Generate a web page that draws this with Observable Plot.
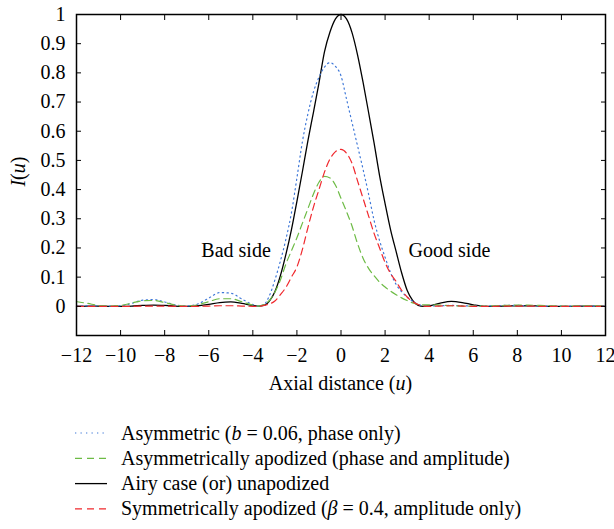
<!DOCTYPE html>
<html>
<head>
<meta charset="utf-8">
<script src="https://cdn.jsdelivr.net/npm/d3@7"></script>
<script src="https://cdn.jsdelivr.net/npm/@observablehq/plot@0.6"></script>
<style>
  body { margin: 0; background: #fff; font-family: Liberation Serif, serif; }
  #chart svg, #legend svg { display: block; }
</style>
</head>
<body>
<div id="chart"></div>
<div id="legend"></div>
<script>
// Axial distance u (coarse outside, finer around the main lobe)
const u = [-12,-11.5,-11,-10.5,-10,-9.5,-9,-8.5,-8,-7.5,-7,-6.5,-6,-5.5,-5,-4.5,
  -4,-3.75,-3.5,-3.25,-3,-2.75,-2.5,-2.25,-2,-1.75,-1.5,-1.25,-1,-0.75,-0.5,-0.25,0,
  0.25,0.5,0.75,1,1.25,1.5,1.75,2,2.25,2.5,2.75,3,3.25,3.5,3.75,4,
  4.5,5,5.5,6,6.5,7,7.5,8,8.5,9,9.5,10,10.5,11,11.5,12];

const asymmetric = [0.001,0.002,0.002,0.001,0.002,0.010,0.021,0.023,0.015,0.005,0.001,0.008,0.028,0.047,0.045,0.025,
  0.006,0.001,0.006,0.036,0.090,0.155,0.230,0.320,0.440,0.565,0.660,0.735,0.785,0.820,0.835,0.822,0.790,
  0.710,0.630,0.550,0.470,0.385,0.295,0.225,0.168,0.115,0.075,0.050,0.032,0.017,0.007,0.002,0.001,
  0.002,0.003,0.002,0.001,0.001,0.002,0.003,0.003,0.002,0.001,0.001,0.001,0.001,0.001,0.001,0.001];

const asymApodized = [0.016,0.010,0.003,0.001,0.003,0.011,0.019,0.020,0.013,0.004,0.001,0.005,0.016,0.026,0.026,0.016,
  0.004,0.001,0.006,0.020,0.048,0.090,0.145,0.190,0.235,0.285,0.335,0.385,0.425,0.445,0.440,0.415,0.370,
  0.325,0.275,0.215,0.165,0.130,0.105,0.083,0.066,0.052,0.040,0.029,0.020,0.012,0.007,0.005,0.005,
  0.004,0.002,0.001,0.001,0.001,0.002,0.003,0.004,0.004,0.003,0.002,0.001,0.001,0.002,0.002,0.002];

const airy = [0.000,0.001,0.001,0.000,0.000,0.001,0.003,0.004,0.003,0.001,0.000,0.002,0.007,0.013,0.015,0.010,
  0.003,0.001,0.003,0.018,0.050,0.105,0.178,0.262,0.360,0.462,0.568,0.665,0.765,0.872,0.940,0.985,1.000,
  0.985,0.938,0.862,0.768,0.665,0.560,0.448,0.352,0.262,0.188,0.115,0.055,0.020,0.003,0.000,0.002,
  0.011,0.017,0.013,0.005,0.000,0.000,0.001,0.002,0.002,0.001,0.000,0.000,0.000,0.001,0.001,0.000];

const symApodized = [0,0,0,0,0,0,0.001,0.001,0.001,0,0,0,0.001,0.002,0.002,0.001,
  0.000,0.000,0.003,0.008,0.018,0.040,0.065,0.100,0.135,0.195,0.270,0.340,0.400,0.460,0.505,0.530,0.538,
  0.525,0.490,0.430,0.370,0.310,0.250,0.200,0.150,0.112,0.085,0.055,0.032,0.016,0.006,0.001,0.000,
  0.001,0.002,0.001,0,0,0,0.001,0.001,0.001,0,0,0,0,0,0,0];

const seriesNames = ["Asymmetric", "Asymmetrically apodized", "Airy", "Symmetrically apodized"];
const seriesValues = [asymmetric, asymApodized, airy, symApodized];
const seriesColors = ["#3f78d8", "#6dbb45", "#000000", "#f0282d"];
const seriesDash = ["1.3,3.4", "7,4.5", null, "7,4.5"];
const drawOrder = [2, 0, 1, 3];

const xTicks = [-12,-10,-8,-6,-4,-2,0,2,4,6,8,10,12];
const xTickLabels = ["\u221212","\u221210","\u22128","\u22126","\u22124","\u22122","0","2","4","6","8","10","12"];
const yTicks = [0,0.1,0.2,0.3,0.4,0.5,0.6,0.7,0.8,0.9,1];
const yTickLabels = ["0","0.1","0.2","0.3","0.4","0.5","0.6","0.7","0.8","0.9","1"];

const annotations = [
  {label: "Bad side", u: -4.76, v: 0.19},
  {label: "Good side", u: 4.92, v: 0.19}
];

const legendParts = [
  [["Asymmetric (", false], ["b", true], [" = 0.06, phase only)", false]],
  [["Asymmetrically apodized (phase and amplitude)", false]],
  [["Airy case (or) unapodized", false]],
  [["Symmetrically apodized (", false], ["\u03b2", true], [" = 0.4, amplitude only)", false]]
];

const FONT = "Liberation Serif, Times New Roman, serif";

const lineMarks = drawOrder.map(si => {
  const rows = u.map((x, i) => ({u: x, v: seriesValues[si][i]}));
  return Plot.line(rows, {
    x: "u", y: "v", curve: "monotone-x",
    stroke: seriesColors[si], strokeWidth: si === 2 ? 1.3 : 1.2,
    strokeDasharray: seriesDash[si]
  });
});

const chart = Plot.plot({
  width: 614,
  height: 400,
  marginLeft: 76,
  marginRight: 9,
  marginTop: 14,
  marginBottom: 65,
  style: {fontFamily: FONT, fontSize: "20px", background: "#fff", color: "#000", overflow: "visible"},
  x: {domain: [-12, 12]},
  y: {domain: [-0.1, 1]},
  marks: [
    ...lineMarks,
    Plot.text(annotations, {x: "u", y: "v", text: "label", fontSize: 20, fontFamily: FONT, fill: "#000"}),
    Plot.axisX({anchor: "bottom", ticks: xTicks, tickSize: 5, tickPadding: 7, fontFamily: FONT,
      tickFormat: d => xTickLabels[xTicks.indexOf(d)], label: null}),
    Plot.axisX({anchor: "top", ticks: xTicks, tickSize: 5, tickFormat: () => "", label: null}),
    Plot.axisY({anchor: "left", ticks: yTicks, tickSize: 5, tickPadding: 6, fontFamily: FONT,
      tickFormat: d => yTickLabels[yTicks.indexOf(d)], label: null}),
    Plot.axisY({anchor: "right", ticks: yTicks, tickSize: 5, tickFormat: () => "", label: null}),
    Plot.frame({stroke: "#000", strokeWidth: 1.5})
  ]
});

// turn the axis ticks inward
const svg = d3.select(chart);
svg.selectAll('g[aria-label="x-axis tick"] path').each(function() {
  const t = this.getAttribute("transform") || "";
  this.setAttribute("transform", t + " scale(1,-1)");
});
svg.selectAll('g[aria-label="y-axis tick"] path').each(function() {
  const t = this.getAttribute("transform") || "";
  this.setAttribute("transform", t + " scale(-1,1)");
});

// axis titles with italic symbols
const xs = chart.scale("x"), ys = chart.scale("y");
const xl = svg.append("text")
  .attr("x", xs.apply(0)).attr("y", 390)
  .attr("text-anchor", "middle").attr("font-size", 20).style("font-family", FONT).attr("fill", "#000");
xl.append("tspan").text("Axial distance (");
xl.append("tspan").attr("font-style", "italic").text("u");
xl.append("tspan").text(")");

const yl = svg.append("text")
  .attr("transform", `translate(25,${ys.apply(0.46)}) rotate(-90)`)
  .attr("text-anchor", "middle").attr("font-size", 20).style("font-family", FONT).attr("fill", "#000");
yl.append("tspan").attr("font-style", "italic").text("I");
yl.append("tspan").text("(");
yl.append("tspan").attr("font-style", "italic").text("u");
yl.append("tspan").text(")");

document.getElementById("chart").appendChild(chart);

// legend
const legendOrder = [0, 1, 2, 3];
const lg = d3.select("#legend").append("svg").attr("width", 614).attr("height", 129)
  .style("font-family", FONT);
legendOrder.forEach((si, row) => {
  const cy = 33 + row * 25.3;
  lg.append("line")
    .attr("x1", 75).attr("x2", 107).attr("y1", cy).attr("y2", cy)
    .attr("stroke", seriesColors[si]).attr("stroke-width", si === 2 ? 1.3 : 1.2)
    .attr("stroke-dasharray", si === 0 ? "1.3,4.2" : (seriesDash[si] ? "7,5" : null));
  const t = lg.append("text").attr("x", 121).attr("y", cy + 6.5)
    .attr("font-size", 20).style("font-family", FONT).attr("fill", "#000");
  legendParts[si].forEach(([s, it]) => {
    const sp = t.append("tspan").text(s);
    if (it) sp.attr("font-style", "italic");
  });
});
</script>
</body>
</html>
